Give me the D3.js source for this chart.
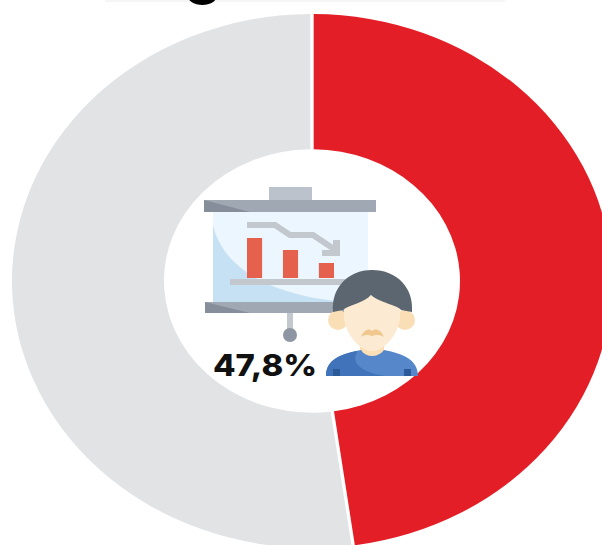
<!DOCTYPE html>
<html>
<head>
    <meta charset="utf-8">
    <style>
        html, body { margin: 0; padding: 0; background: #fff; overflow: hidden; }
        svg { display: block; }
    </style>
</head>
<body>
    <div id="graph"></div>
    <script src="https://d3js.org/d3.v7.min.js"></script>
    <script>
        const WIDTH = 602;
        const HEIGHT = 545;

        // Data
        const categories = ["Turun", "Lainnya"];
        const values = [47.8, 52.2];
        const colors = ["#e31e26", "#e2e3e5"];
        const centerLabel = "47,8%";

        // Small bars of the presentation icon
        const iconBars = ["a", "b", "c"];
        const iconValues = [40, 28, 15];

        const svg = d3.select("#graph")
            .append("svg")
            .attr("width", WIDTH)
            .attr("height", HEIGHT)
            .attr("viewBox", `0 0 ${WIDTH} ${HEIGHT}`);

        svg.append("defs").append("filter")
            .attr("id", "soft")
            .append("feGaussianBlur")
            .attr("stdDeviation", 0.7);

        // Title is cut off by the top edge: only the bottom of the line is left
        const title = svg.append("g").attr("filter", "url(#soft)");
        title.append("rect")
            .attr("x", 105).attr("y", 0)
            .attr("width", 400).attr("height", 2)
            .attr("fill", "#f6f6f6");
        title.append("text")
            .attr("x", 203)
            .attr("y", -8)
            .attr("text-anchor", "middle")
            .attr("font-family", "Inter, Roboto, sans-serif")
            .attr("font-weight", 800)
            .attr("font-size", 58)
            .attr("fill", "#000")
            .text("g");

        // Donut, squashed a bit vertically like the reference
        const pie = d3.pie().sort(null).padAngle(0.01)(values);
        const arc = d3.arc().innerRadius(148).outerRadius(300);

        svg.append("g")
            .attr("transform", "translate(312,281) scale(1,0.89)")
            .selectAll("path")
            .data(pie)
            .join("path")
            .attr("d", arc)
            .attr("fill", (d, i) => colors[i]);

        // Icon: projector screen
        const icon = svg.append("g").attr("filter", "url(#soft)");
        const rect = (x, y, w, h, fill) => icon.append("rect")
            .attr("x", x).attr("y", y).attr("width", w).attr("height", h).attr("fill", fill);

        rect(269, 187, 43, 14, "#bcc2cb");
        rect(213, 212, 155, 90, "#ebf6fe");
        icon.append("path")
            .attr("d", "M213,225 C222,265 265,295 345,302 L213,302 Z")
            .attr("fill", "#c6e1f4");
        rect(204, 200, 172, 12, "#a0a8b3");
        icon.append("path").attr("d", "M204,200 L250,212 L204,212 Z").attr("fill", "#858e9a");
        rect(205, 302, 170, 11, "#a0a8b3");
        icon.append("path").attr("d", "M205,302 L250,313 L205,313 Z").attr("fill", "#858e9a");
        rect(287, 313, 6, 16, "#c3c8cf");
        icon.append("circle").attr("cx", 290).attr("cy", 335).attr("r", 7).attr("fill", "#8d96a2");
        rect(230, 279, 115, 6, "#c3c8cf");

        icon.append("polyline")
            .attr("points", "247,225 275,225 290,235 313,235 334,249")
            .attr("fill", "none")
            .attr("stroke", "#c3c8cf")
            .attr("stroke-width", 6);
        icon.append("path")
            .attr("d", "M333,240 L340,240 L340,256 L322,256 L322,250 L333,250 Z")
            .attr("fill", "#c3c8cf");

        const xBar = d3.scaleBand().domain(iconBars).range([247, 334]).paddingInner(0.58);
        const yBar = d3.scaleLinear().domain([0, 40]).range([278, 238]);
        icon.selectAll(".bar")
            .data(iconValues)
            .join("rect")
            .attr("class", "bar")
            .attr("x", (d, i) => xBar(iconBars[i]))
            .attr("y", d => yBar(d))
            .attr("width", xBar.bandwidth())
            .attr("height", d => yBar(0) - yBar(d))
            .attr("fill", "#e5604e");

        // Icon: person
        icon.append("circle").attr("cx", 338).attr("cy", 320).attr("r", 10).attr("fill", "#fadfb6");
        icon.append("circle").attr("cx", 405).attr("cy", 320).attr("r", 10).attr("fill", "#fadfb6");
        rect(360, 340, 24, 20, "#fadfb6");
        icon.append("path")
            .attr("d", "M326,376 C326,360 340,354 361,350 C366,358 378,358 384,350 C404,354 418,360 418,376 Z")
            .attr("fill", "#5487ca");
        icon.append("path")
            .attr("d", "M326,376 C326,360 340,354 358,351 C350,362 360,372 385,376 Z")
            .attr("fill", "#3f73b9");
        rect(333, 369, 7, 7, "#2c5a98");
        rect(404, 369, 7, 7, "#2c5a98");
        icon.append("path")
            .attr("d", "M344,296 L400,296 L400,318 C398,334 385,351 372,351 C359,351 346,334 344,318 Z")
            .attr("fill", "#fcebd2");
        icon.append("path")
            .attr("d", "M333,312 C331,288 348,270 372,270 C397,270 414,288 412,312 L401,310 C398,305 380,303 371,295 C364,303 348,305 343,310 Z")
            .attr("fill", "#5c6670");
        icon.append("path")
            .attr("d", "M361,337 C364,329 370,328 372,331 C375,328 381,329 384,337 C379,334 375,335 372,336 C369,335 365,334 361,337 Z")
            .attr("fill", "#f0c78c");

        svg.append("text")
            .attr("x", 213)
            .attr("y", 376)
            .attr("font-family", "Inter, Roboto, sans-serif")
            .attr("font-weight", 800)
            .attr("font-size", 30)
            .attr("textLength", 104)
            .attr("lengthAdjust", "spacingAndGlyphs")
            .attr("fill", "#111")
            .text(centerLabel);
    </script>
</body>
</html>
